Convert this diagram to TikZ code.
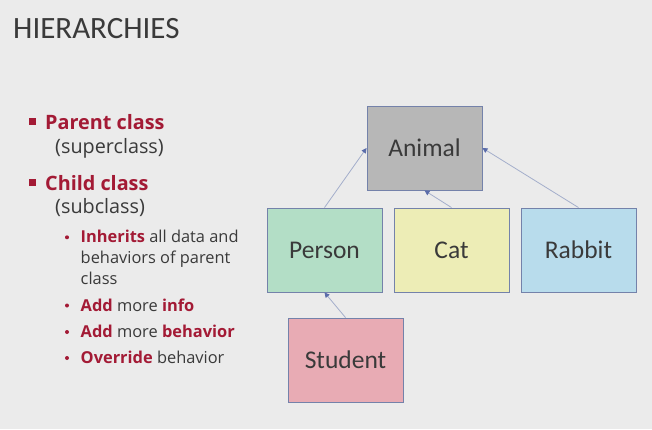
\documentclass[tikz,border=0pt]{standalone}
\usepackage{fontspec}
\setmainfont{Carlito}
\newfontfamily\listfont{Open Sans}
\usetikzlibrary{arrows.meta}
\definecolor{bgcol}{HTML}{EBEBEB}
\definecolor{txtcol}{HTML}{3A3A3A}
\definecolor{accent}{HTML}{A31A35}
\definecolor{edgecol}{HTML}{7482AA}
\definecolor{linkcol}{HTML}{A4AECB}
\definecolor{tipcol}{HTML}{5A6CAA}
\definecolor{animalfill}{HTML}{B7B7B7}
\definecolor{personfill}{HTML}{B3DEC6}
\definecolor{catfill}{HTML}{EDEDB6}
\definecolor{rabbitfill}{HTML}{B8DCEC}
\definecolor{studentfill}{HTML}{E8ABB4}
\tikzset{
  classbox/.style={draw=edgecol, line width=0.9pt, minimum width=115pt, minimum height=84pt,
    inner sep=0pt, text=txtcol, font=\fontsize{25.5}{30}\selectfont},
  link/.style={draw=linkcol, line width=0.8pt,
    -{Triangle[length=5pt,width=5pt,fill=tipcol,color=tipcol]}},
  bodytext/.style={anchor=base west, inner sep=0pt, text=txtcol},
  lvlone/.style={bodytext, font=\listfont\fontsize{19.8}{24}\selectfont},
  lvltwo/.style={bodytext, font=\listfont\fontsize{16.4}{20}\selectfont},
}
\begin{document}
\begin{tikzpicture}[x=1pt,y=-1pt]
  \fill[bgcol] (0,0) rectangle (652,429);
  \useasboundingbox (0,0) rectangle (652,429);

  % heading
  \node[bodytext, font=\fontsize{31}{36}\selectfont] (title) at (13,38.3) {HIERARCHIES};

  % first level bullets
  \fill[accent] (29.3,118.3) rectangle (36,125);
  \node[lvlone] (parent) at (45,129.5) {\textcolor{accent}{\bfseries Parent class}};
  \node[lvlone] (super) at (55,153.5) {(superclass)};
  \fill[accent] (29.3,179) rectangle (36,185.7);
  \node[lvlone] (child) at (45,190) {\textcolor{accent}{\bfseries Child class}};
  \node[lvlone] (sub) at (55,213.5) {(subclass)};

  % second level bullets
  \foreach \yy in {237.3,305.5,332,358}
    \fill[accent] (67,\yy) circle (2);
  \node[lvltwo] (inh1) at (80.5,242.3) {\textcolor{accent}{\bfseries Inherits} all data and};
  \node[lvltwo] (inh2) at (80.5,263.3) {behaviors of parent};
  \node[lvltwo] (inh3) at (80.5,284.3) {class};
  \node[lvltwo] (info) at (80.5,311) {\textcolor{accent}{\bfseries Add} more \textcolor{accent}{\bfseries info}};
  \node[lvltwo] (beh) at (80.5,337.5) {\textcolor{accent}{\bfseries Add} more \textcolor{accent}{\bfseries behavior}};
  \node[lvltwo] (ovr) at (80.5,363.3) {\textcolor{accent}{\bfseries Override} behavior};

  % class hierarchy
  \node[classbox, fill=animalfill] (animal) at (424.5,148) {Animal};
  \node[classbox, fill=personfill] (person) at (324.5,250) {Person};
  \node[classbox, fill=catfill] (cat) at (451.5,250) {Cat};
  \node[classbox, fill=rabbitfill] (rabbit) at (578.5,250) {Rabbit};
  \node[classbox, fill=studentfill] (student) at (345.5,360) {Student};

  \draw[link] (person.north) -- (animal.west);
  \draw[link] (cat.north) -- (animal.south);
  \draw[link] (rabbit.north) -- (animal.east);
  \draw[link] (student.north) -- (person.south);
\end{tikzpicture}
\end{document}
